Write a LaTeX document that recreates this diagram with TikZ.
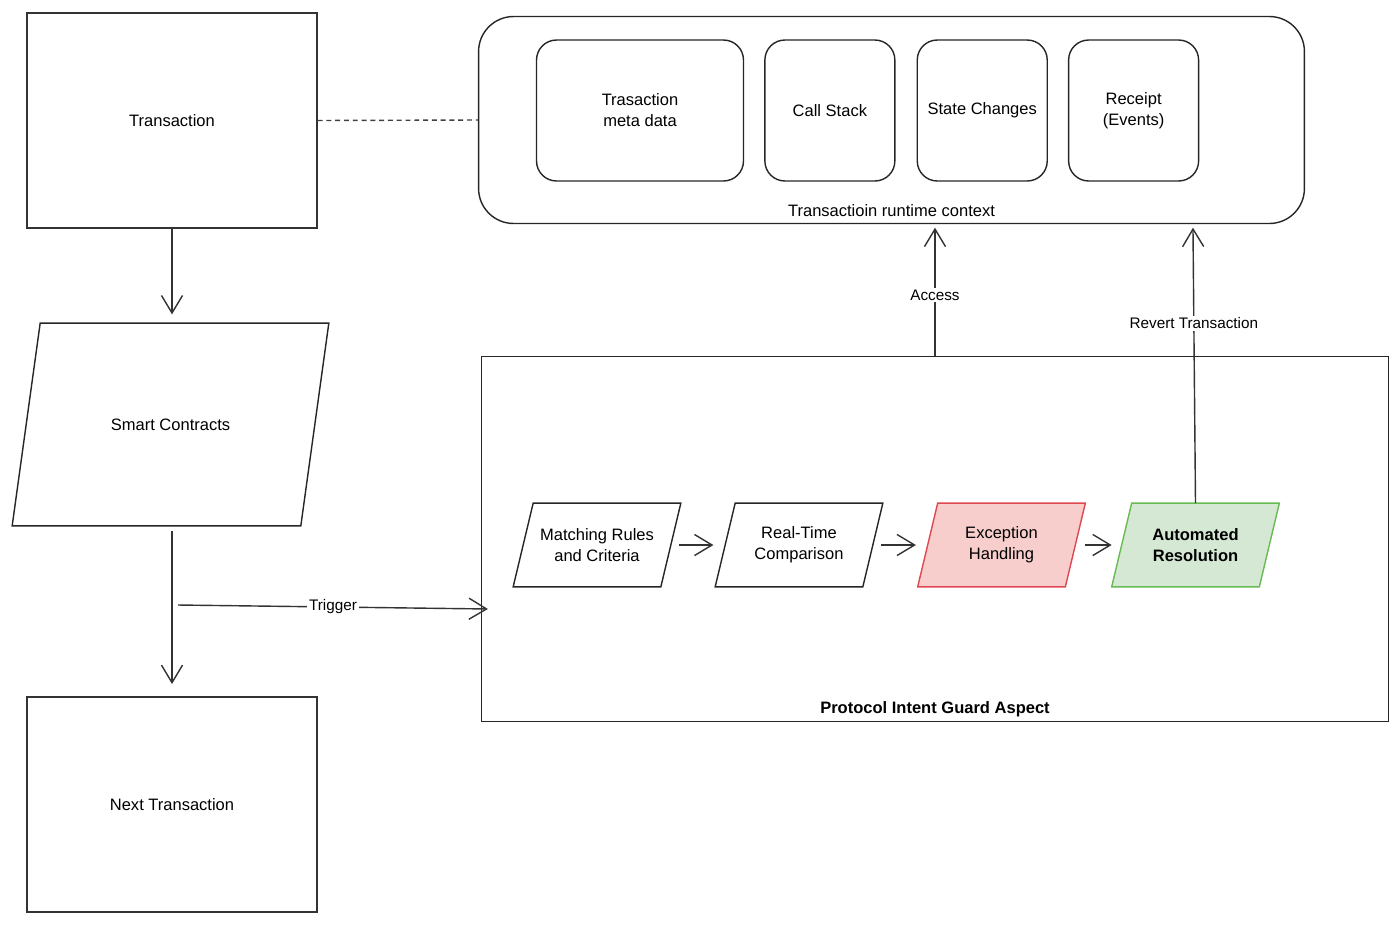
\documentclass[tikz,border=0pt]{standalone}
\usepackage{fontspec}
\setmainfont{Liberation Sans}
\usepackage{xcolor}
\usetikzlibrary{arrows.meta,positioning,backgrounds}

\definecolor{redfill}{HTML}{F8CECC}
\definecolor{redline}{RGB}{222,72,82}
\definecolor{greenfill}{HTML}{D5E8D4}
\definecolor{greenline}{RGB}{104,186,84}

\begin{document}
\begin{tikzpicture}[
    x=0.02cm, y=-0.02cm,
    node distance=0.4cm and 0.4cm,
    font=\fontsize{9.4}{11.9}\selectfont,
    box/.style={rectangle, draw=black!80, line width=0.8pt, minimum width=5.8cm, minimum height=4.3cm},
    rbox/.style={rectangle, draw=black!85, line width=0.8pt, rounded corners=0.4cm, minimum height=2.82cm, align=center},
    para/.style n args={3}{rectangle, minimum width=3.34cm, minimum height=1.66cm, align=center,
      append after command={\pgfextra{\begin{pgfonlayer}{background}
        \filldraw[fill=#1, draw=#2, line width=0.8pt] ([xshift=#3]\tikzlastnode.north west) -- (\tikzlastnode.north east)
          -- ([xshift=-#3]\tikzlastnode.south east) -- (\tikzlastnode.south west) -- cycle;
      \end{pgfonlayer}}}},
    arrow/.style={-{Straight Barb[length=10pt,width=12pt]}, draw=black!80, line width=0.8pt},
    lbl/.style={fill=white, inner sep=1pt, font=\fontsize{8.7}{10.5}\selectfont}
]
  \useasboundingbox (0,0) rectangle (1400,924);

  % Left column
  \node[box] (tx) at (172,120.5) {Transaction};
  \node[para={white}{black!85}{0.56cm}, minimum width=6.32cm, minimum height=4.04cm] (sc) at (170.5,424.5) {Smart Contracts};
  \node[box] (next) at (172,804.5) {Next Transaction};

  % Runtime context
  \node[rectangle, draw=black!85, line width=0.8pt, rounded corners=0.7cm, minimum width=16.52cm, minimum height=4.14cm] (ctx) at (891.5,120) {};
  \node[rbox, minimum width=4.14cm] (meta) at (640,110.5) {Trasaction\\meta data};
  \node[rbox, minimum width=2.6cm, right=of meta] (stack) {Call Stack};
  \node[rbox, minimum width=2.6cm, right=0.42cm of stack] (state) {State Changes};
  \node[rbox, minimum width=2.6cm, right=of state] (receipt) {Receipt\\(Events)};
  \node (ctxlbl) at ([yshift=0.28cm]ctx.south) {Transactioin runtime context};

  % Guard aspect
  \node[rectangle, draw=black!85, line width=0.8pt, minimum width=18.14cm, minimum height=7.3cm] (guard) at (935,539) {};
  \node[font=\fontsize{9.4}{11.9}\selectfont\bfseries] (guardlbl) at ([yshift=0.26cm]guard.south) {Protocol Intent Guard Aspect};

  \node[para={white}{black!85}{0.4cm}] (match) at (597,545) {Matching Rules\\and Criteria};
  \node[para={white}{black!85}{0.4cm}] (rtc) at (799,545) {Real-Time\\Comparison};
  \node[para={redfill}{redline}{0.4cm}] (exc) at (1001.5,545) {Exception\\Handling};
  \node[para={greenfill}{greenline}{0.4cm}, font=\fontsize{9.4}{11.9}\selectfont\bfseries] (auto) at (1195.5,545) {Automated\\Resolution};

  % Arrows
  \draw[arrow, shorten >=5pt] (tx.south) -- (tx.south |- sc.north);
  \draw[arrow, shorten <=3pt, shorten >=7pt] (sc.south -| tx.south) -- (next.north);
  \draw[black!75, line width=0.8pt, dash pattern=on 2.8pt off 2.2pt] (tx.east) -- (ctx.west);

  \coordinate (trig) at (178,605);
  \draw[arrow] (trig) -- node[lbl] (triglbl) {Trigger} ([shift={(0.14cm,-1.4cm)}]guard.west);

  \draw[arrow, shorten >=2pt] (guard.north) -- node[lbl, pos=0.46] (acclbl) {Access} (guard.north |- ctx.south);
  \draw[arrow, shorten >=2pt] (auto.north) -- node[lbl, pos=0.645] (revlbl) {Revert Transaction} ([xshift=6.03cm]ctx.south);

  \draw[arrow, shorten <=-1pt, shorten >=1pt] (match) -- (rtc);
  \draw[arrow, shorten <=-1pt, shorten >=1pt] (rtc) -- (exc);
  \draw[arrow, shorten <=0pt, shorten >=0pt] (exc) -- (auto);
\end{tikzpicture}
\end{document}
